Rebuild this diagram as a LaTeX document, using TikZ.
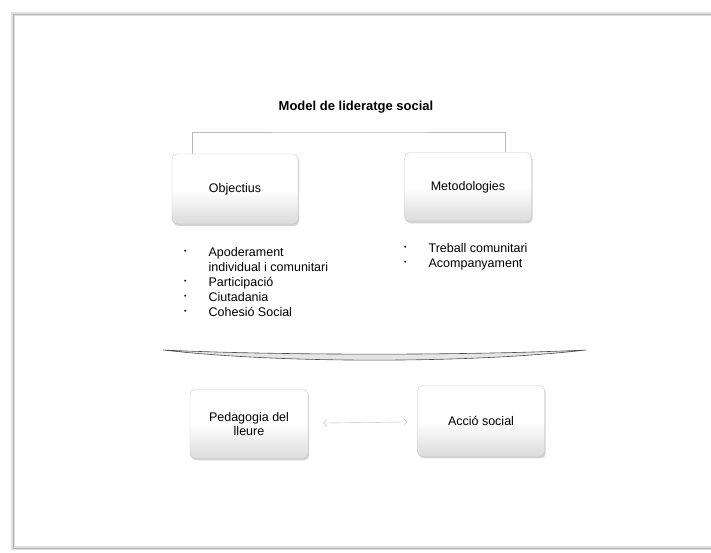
\documentclass[tikz,border=0pt]{standalone}
\usepackage{fontspec}
\setmainfont{Liberation Sans}
\usetikzlibrary{arrows.meta,shadows}
\newcommand\dotitem{\raisebox{2.5pt}{\scriptsize\textbullet}}

\begin{document}
\begin{tikzpicture}[x=1pt,y=-1pt,>={Straight Barb[length=3.5pt,width=7pt]},
  box/.style={draw=gray!45,rounded corners=5pt,top color=white,bottom color=gray!28,middle color=white,
    drop shadow={shadow xshift=1.2pt,shadow yshift=-1.8pt,opacity=0.35},
    minimum width=126pt,minimum height=70pt,align=center,font=\fontsize{12.5}{13.5}\selectfont},
  itemlist/.style={anchor=base west,inner sep=0pt,font=\fontsize{12.5}{15}\selectfont}]
  \useasboundingbox (0,0) rectangle (711,552);
  \draw[gray!25,line width=3.5pt] (13,14) rectangle (716,548);
  \draw[gray!60,line width=1pt] (13,14) rectangle (716,548);
  \node[font=\fontsize{13}{15}\selectfont\bfseries] (title) at (356,107) {Model de lideratge social};
  \node[box] (obj) at (235,189) {Objectius};
  \node[box,minimum width=127pt,minimum height=69pt] (met) at (468,187) {Metodologies};
  \node[box,minimum width=118pt,minimum height=69pt] (ped) at (249,424) {Pedagogia del\\lleure};
  \node[box,minimum width=127pt,minimum height=71pt] (acc) at (481,421) {Acció social};
  \coordinate (top) at (349,132);
  \draw[gray!55] ([xshift=20pt]obj.north west) |- (top) -| ([xshift=101pt]met.north west);
  \node[itemlist] (objlist) at (184,256) {\begin{tabular}[t]{@{}l@{\hspace{22pt}}l@{}}
    \dotitem & Apoderament\\
    & individual i comunitari\\
    \dotitem & Participació\\
    \dotitem & Ciutadania\\
    \dotitem & Cohesió Social
  \end{tabular}};
  \node[itemlist] (metlist) at (404,252) {\begin{tabular}[t]{@{}l@{\hspace{22pt}}l@{}}
    \dotitem & Treball comunitari\\
    \dotitem & Acompanyament
  \end{tabular}};
  \filldraw[draw=gray!60!black,fill=gray!20,line width=0.6pt] (163,350) .. controls (280,355.5) and (469,355.5) .. (586,350)
    .. controls (469,363.5) and (280,363.5) .. (163,350) -- cycle;
  \draw[<->,gray!50,shorten <=15pt,shorten >=10pt] (ped) -- (acc);
\end{tikzpicture}
\end{document}
